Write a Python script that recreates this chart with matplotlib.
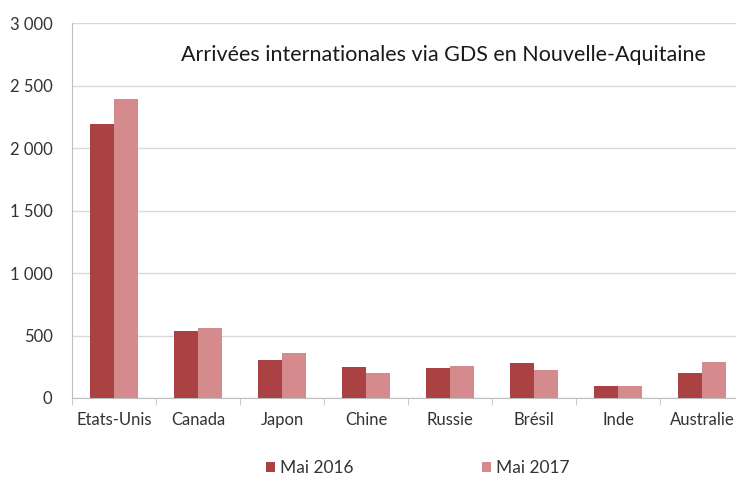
import numpy as np
import matplotlib
matplotlib.use("Agg")
import matplotlib.pyplot as plt
from matplotlib.ticker import FuncFormatter, FixedLocator

# Data
pays = ["Etats-Unis", "Canada", "Japon", "Chine", "Russie", "Brésil", "Inde", "Australie"]
mai_2016 = [2190, 535, 305, 245, 237, 277, 93, 200]
mai_2017 = [2390, 558, 357, 202, 253, 226, 98, 288]
series_labels = ["Mai 2016", "Mai 2017"]

plt.rcParams["font.family"] = ["Lato", "DejaVu Sans"]

col_2016 = "#aa4244"
col_2017 = "#d58b8e"

fig = plt.figure(figsize=(7.36, 4.79), dpi=100)
# axes run a little past the right edge, as in the reference
ax = fig.add_axes([72 / 736, 81 / 479, 672 / 736, 375 / 479])

x = np.arange(len(pays))
w = 0.28
b1 = ax.bar(x - w / 2, mai_2016, width=w, color=col_2016, label=series_labels[0], zorder=3)
b2 = ax.bar(x + w / 2, mai_2017, width=w, color=col_2017, label=series_labels[1], zorder=3)

ax.set_xlim(-0.5, len(pays) - 0.5)
ax.set_ylim(0, 3000)
ax.set_yticks(np.arange(0, 3001, 500))
ax.yaxis.set_major_formatter(FuncFormatter(lambda v, p: f"{int(v):,}".replace(",", " ")))
ax.yaxis.grid(True, color="#d9d9d9", linewidth=1, zorder=0)

ax.set_xticks(x)
ax.set_xticklabels(pays)
ax.xaxis.set_minor_locator(FixedLocator(np.arange(-0.5, len(pays), 1)))
ax.tick_params(axis="x", which="major", length=0, pad=10, labelsize=12, labelcolor="#333333")
ax.tick_params(axis="x", which="minor", length=5, color="#bfbfbf", direction="out")
ax.tick_params(axis="y", length=0, pad=14, labelsize=12, labelcolor="#333333")

for s in ["top", "right"]:
    ax.spines[s].set_visible(False)
ax.spines["left"].set_color("#bfbfbf")
ax.spines["bottom"].set_color("#bfbfbf")

ax.text(443 / 736, 1 - 55 / 479, "Arrivées internationales via GDS en Nouvelle-Aquitaine",
        transform=fig.transFigure, ha="center", va="center", fontsize=15.5, color="#1a1a1a")

fig.legend(handles=[b1, b2], loc="center", bbox_to_anchor=(418 / 736, 1 - 468 / 479), ncol=2,
           frameon=False, fontsize=12.5, handlelength=0.5, handleheight=0.5,
           handletextpad=0.3, columnspacing=7.4, labelcolor="#333333")

fig.savefig("out.png", dpi=100)
